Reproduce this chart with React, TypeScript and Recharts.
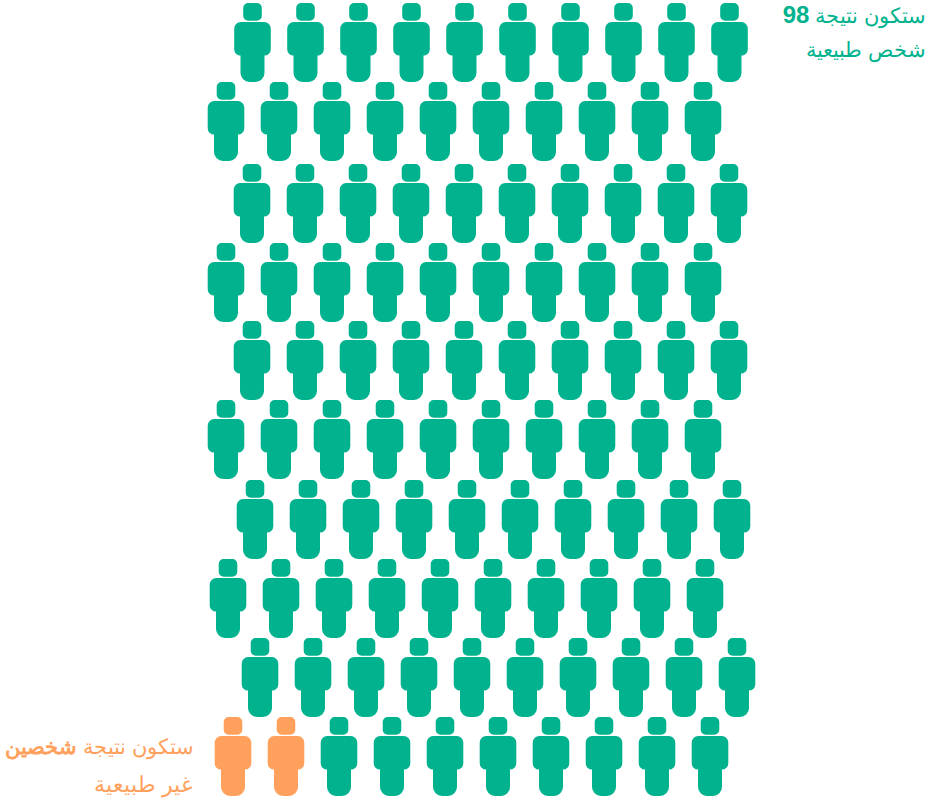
import React from "react";
import { ScatterChart, Scatter, XAxis, YAxis } from "recharts";

const GREEN = "#00B38E";
const ORANGE = "#FFA15C";

// Rows of the pictogram, top to bottom: where each row starts and its top edge.
const rowStart = [252.5, 226, 252, 226, 252, 226, 255, 228, 260, 233];
const rowTop = [3, 82, 164, 243, 321, 400, 480, 559, 638, 717];
const columnOffset = [0, 53, 106, 159, 212, 265, 318, 371, 424, 477];
const orangeCount = 2;

type Pt = { x: number; y: number };
const allPoints: Pt[] = rowStart.flatMap((s, r) =>
  columnOffset.map((o) => ({ x: s + o, y: rowTop[r] }))
);
const lastRow = allPoints.length - columnOffset.length;
const greenPoints = allPoints.slice(0, lastRow).concat(allPoints.slice(lastRow + orangeCount));
const orangePoints = allPoints.slice(lastRow, lastRow + orangeCount);

const personPath = (c: number, t: number) => {
  const L = c - 18.3, R = c + 18.3, l = c - 12, r = c + 12;
  const hw = 9.3, hr = 5, sr = 6.5, wr = 6.3, fr = 9;
  const arc = (rad: number, x: number, y: number) => `A${rad},${rad} 0 0 1 ${x},${y}`;
  return [
    `M${c - hw + hr},${t}`,
    `H${c + hw - hr}`, arc(hr, c + hw, t + hr),
    `V${t + 17.8 - hr}`, arc(hr, c + hw - hr, t + 17.8),
    `H${c - hw + hr}`, arc(hr, c - hw, t + 17.8 - hr),
    `V${t + hr}`, arc(hr, c - hw + hr, t), "Z",
    `M${L + sr},${t + 19}`,
    `H${R - sr}`, arc(sr, R, t + 19 + sr),
    `V${t + 52.5 - wr}`, arc(wr, r, t + 52.5),
    `V${t + 79 - fr}`, arc(fr, r - fr, t + 79),
    `H${l + fr}`, arc(fr, l, t + 79 - fr),
    `V${t + 52.5}`, arc(wr, L, t + 52.5 - wr),
    `V${t + 19 + sr}`, arc(sr, L + sr, t + 19), "Z",
  ].join(" ");
};

const Person = (props: any) => {
  const { cx, cy, fill } = props;
  if (cx == null || cy == null) return null;
  return <path d={personPath(cx, cy)} fill={fill} />;
};

const font = "'Liberation Sans', Arial, sans-serif";
const Note = ({ x, y, color, line, bold, boldSize, size = 21 }: any) => (
  <text x={x} y={y} fill={color} fontFamily={font} fontSize={size} textAnchor="start" direction="rtl">
    {line}
    {bold ? <tspan fontWeight="bold" fontSize={boldSize ?? size}>{bold}</tspan> : null}
  </text>
);

export default function App() {
  return (
    <div style={{ position: "absolute", left: 0, top: 0, width: 940, height: 802 }}>
      <ScatterChart width={940} height={802} margin={{ top: 0, right: 0, bottom: 0, left: 0 }}>
        <XAxis type="number" dataKey="x" domain={[0, 940]} hide />
        <YAxis type="number" dataKey="y" domain={[0, 802]} reversed hide />
        <Scatter data={greenPoints} fill={GREEN} shape={<Person />} isAnimationActive={false} />
        <Scatter data={orangePoints} fill={ORANGE} shape={<Person />} isAnimationActive={false} />
        <Note x={926} y={23} color={GREEN} line="ستكون نتيجة " bold="98" boldSize={24} />
        <Note x={926} y={57} color={GREEN} size={21} line="شخص طبيعية" />
        <Note x={194} y={754} color={ORANGE} line="ستكون نتيجة " bold="شخصين" />
        <Note x={193} y={792} color={ORANGE} size={21.5} line="غير طبيعية" />
      </ScatterChart>
    </div>
  );
}
